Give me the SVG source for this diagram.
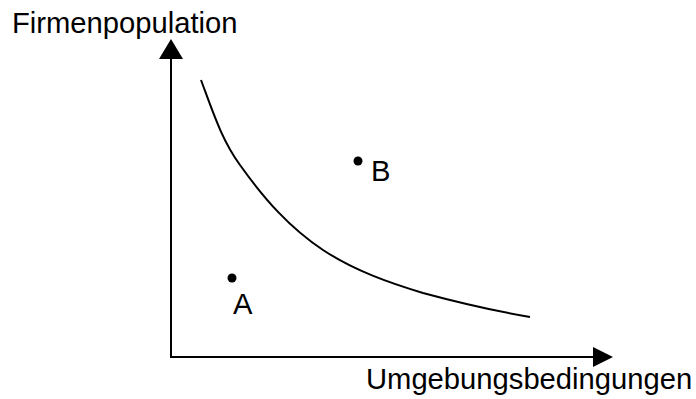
<svg xmlns="http://www.w3.org/2000/svg" width="696" height="399" viewBox="0 0 696 399">
<style>
.t{font-family:"Liberation Sans",Arial,sans-serif;font-size:29.2px;fill:#000}
.ax{stroke:#000;stroke-width:2;fill:none}
.head{fill:#000}
</style>
<rect width="696" height="399" fill="#fff"/>
<g id="connectors">
<line class="ax" x1="171" y1="58" x2="171" y2="357"/>
<line class="ax" x1="170" y1="357" x2="594" y2="357"/>
<polygon class="head" points="171,39 159,59 183,59"/>
<polygon class="head" points="613,357 593,347 593,367"/>
</g>
<g id="curve">
<path d="M201,80 C214,115 222,140 240,165 C265,200 290,228 323,250 C355,271 390,283 423,293 C460,303 495,311 530,317" fill="none" stroke="#000" stroke-width="2"/>
</g>
<g id="labelY"><text class="t" x="12" y="33">Firmenpopulation</text></g>
<g id="labelX"><text class="t" x="366" y="389">Umgebungsbedingungen</text></g>
<g id="pointA">
<circle cx="232" cy="278" r="4.5" fill="#000"/>
<text class="t" x="233" y="314">A</text>
</g>
<g id="pointB">
<circle cx="358" cy="161" r="4.5" fill="#000"/>
<text class="t" x="371" y="181">B</text>
</g>
</svg>
